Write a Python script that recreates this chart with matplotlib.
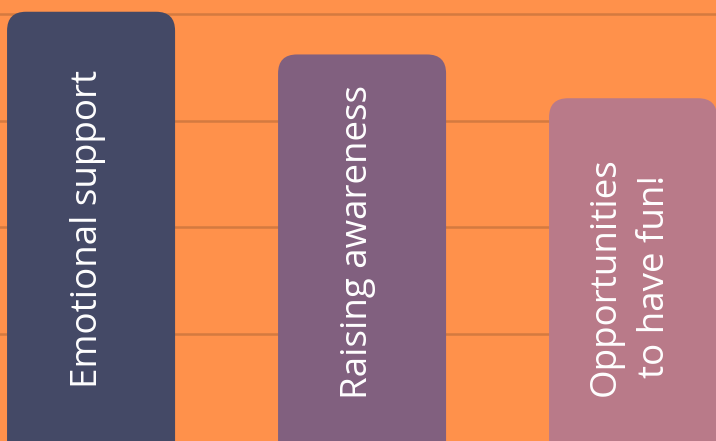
import matplotlib.pyplot as plt
from matplotlib.patches import FancyBboxPatch

# three bars, each label drawn vertically inside its bar
labels = ['Emotional support', 'Raising awareness', 'Opportunities\nto have fun!']
values = [4.02, 3.62, 3.21]
colors = ['#444966', '#81607F', '#B97A89']

bg = '#FF914B'
grid_color = '#D47A40'

fig = plt.figure(figsize=(7.16, 4.41), dpi=100, facecolor=bg)
ax = fig.add_axes([0, 0, 1, 1])
ax.set_facecolor(bg)

x_lo, x_hi = -0.336, 2.306
y_lo, y_hi = 0.0, 4.13
ax.set_xlim(x_lo, x_hi)
ax.set_ylim(y_lo, y_hi)

# gridlines
for g in [1, 2, 3, 4]:
    ax.axhline(g, color=grid_color, linewidth=1.8, zorder=1)

# aspect between data units per pixel in y and x, for round corners
w_px, h_px = 716, 441
aspect = ((y_hi - y_lo) / h_px) / ((x_hi - x_lo) / w_px)

bar_w = 0.62
for i, (v, c, lab) in enumerate(zip(values, colors, labels)):
    left = i - bar_w / 2
    patch = FancyBboxPatch((left, -1), bar_w, v + 1,
                           boxstyle='round,pad=0,rounding_size=0.07',
                           mutation_aspect=aspect,
                           facecolor=c, edgecolor='none', zorder=2)
    ax.add_patch(patch)

text_y = [0.5, 0.39, 0.42]
text_dx = [-0.01, -0.015, -0.01]
for i, lab in enumerate(labels):
    ax.text(i + text_dx[i], text_y[i], lab, rotation=90, ha='center', va='bottom',
            multialignment='center', color='white', fontsize=26.5,
            family='Open Sans', linespacing=1.5, zorder=3)

ax.axis('off')
fig.savefig('out.png', dpi=100, facecolor=bg)
